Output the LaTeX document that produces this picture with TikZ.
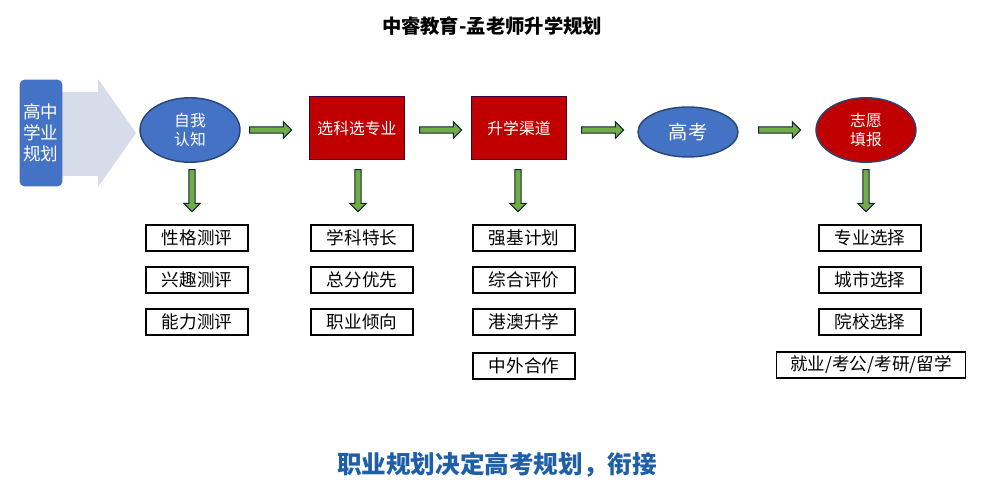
\documentclass[tikz,border=0pt]{standalone}
\usepackage{fontspec}
\setmainfont{Noto Sans CJK SC}
\usetikzlibrary{positioning,shapes,shapes.geometric,shapes.arrows}
\definecolor{ppblue}{HTML}{4472C4}
\definecolor{ppred}{HTML}{C00000}
\definecolor{ppgreen}{HTML}{70AD47}
\definecolor{pppale}{HTML}{D6DCE9}
\definecolor{ppnavy}{HTML}{1F5FA8}
\tikzset{
  oval/.style={ellipse,draw=ppblue!60!black,line width=.8pt,minimum width=2cm,minimum height=1cm,text=white,font=\fontsize{9}{11}\selectfont,align=center},
  redbox/.style={draw=violet!50!black,line width=1pt,fill=ppred,minimum width=1.9cm,minimum height=1.26cm,text=white,font=\fontsize{9}{11}\selectfont},
  item/.style={draw,line width=.8pt,minimum width=2.04cm,minimum height=.52cm,font=\fontsize{10}{12}\selectfont,inner sep=1pt},
  rarrow/.style={single arrow,draw=ppblue!30!black,line width=.6pt,fill=ppgreen,minimum height=.84cm,single arrow head extend=.1cm,inner sep=1.5pt},
  darrow/.style={rarrow,shape border rotate=270}
}
\begin{document}
\begin{tikzpicture}[x=0.02cm,y=-0.02cm]
    \useasboundingbox (0,0) rectangle (981,482);
    \node[font=\bfseries\fontsize{11}{13}\selectfont] (title) at (492,26) {中睿教育-孟老师升学规划};

    % left part
    \fill[pppale] (60,92) -- (98,92) -- (98,79) -- (136,133) -- (98,187) -- (98,176) -- (60,176) -- cycle;
    \node[rounded corners=3pt,fill=ppblue,minimum width=.86cm,minimum height=2.14cm,text=white,align=center,font=\fontsize{10}{12}\selectfont,inner sep=1pt] (hs) at (41,133) {高中\\学业\\规划};

    % top row
    \node[oval,fill=ppblue] (self) at (190,130) {自我\\认知};
    \node[redbox] (subj) at (357,128) {选科选专业};
    \node[redbox] (path) at (519,128) {升学渠道};
    \node[oval,fill=ppblue,font=\fontsize{11}{13}\selectfont] (gk) at (688,132) {高考};
    \node[oval,fill=ppred] (wish) at (866,130) {志愿\\填报};

    \node[rarrow] (a1) at (269,130) {};
    \node[rarrow] (a2) at (439,130) {};
    \node[rarrow] (a3) at (601,130) {};
    \node[rarrow] (a4) at (778,130) {};

    \node[darrow] (d1) at (192,189) {};
    \node[darrow] (d2) at (358,189) {};
    \node[darrow] (d3) at (518,189) {};
    \node[darrow] (d4) at (866,189) {};

    % lists
    \node[item] (s1) at (197,238) {性格测评};
    \node[item] (s2) at (197,280) {兴趣测评};
    \node[item] (s3) at (197,322) {能力测评};

    \node[item] (k1) at (362,238) {学科特长};
    \node[item] (k2) at (362,280) {总分优先};
    \node[item] (k3) at (362,322) {职业倾向};

    \node[item] (p1) at (524,238) {强基计划};
    \node[item] (p2) at (524,280) {综合评价};
    \node[item] (p3) at (524,322) {港澳升学};
    \node[item] (p4) at (524,366) {中外合作};

    \node[item] (w1) at (870,238) {专业选择};
    \node[item] (w2) at (870,280) {城市选择};
    \node[item] (w3) at (870,322) {院校选择};
    \node[item,minimum width=3.78cm] (w4) at (871,365) {就业/考公/考研/留学};

    \node[font=\bfseries\fontsize{14}{16}\selectfont,text=ppnavy] (motto) at (497,465) {职业规划决定高考规划，衔接};
\end{tikzpicture}
\end{document}
